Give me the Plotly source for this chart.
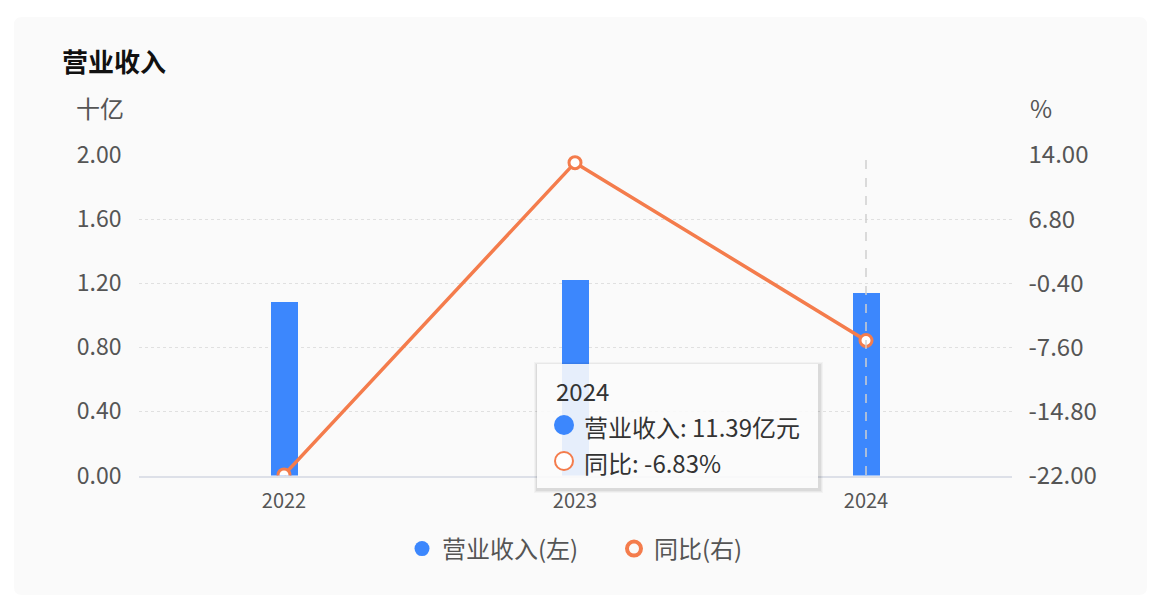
import plotly.graph_objects as go

# data (revenue in 亿元, growth in %)
years = ["2022", "2023", "2024"]
revenue_yi = [10.81, 12.23, 11.39]
yoy_pct = [-21.93, 13.14, -6.83]

left_ticks = [0.0, 0.4, 0.8, 1.2, 1.6, 2.0]
right_ticks = [-22.0, -14.8, -7.6, -0.4, 6.8, 14.0]

revenue_bn = [v / 10 for v in revenue_yi]

# page body keeps its 8px margin, so the figure is sized to fit inside the window
OFF = 8
W, H = 1169 - OFF, 609 - OFF
BLUE = "#3c87fd"
ORANGE = "#f47c4c"
TICK = "#555555"
FONT = "Noto Sans CJK SC, Noto Sans, sans-serif"


def px(x):
    # window pixel -> paper fraction
    return (x - OFF) / W


def py(y):
    return 1 - (y - OFF) / H


fig = go.Figure()

fig.add_trace(go.Bar(
    x=years, y=revenue_bn, name="营业收入(左)",
    marker=dict(color=BLUE, line=dict(width=0)),
    width=0.096, showlegend=False, yaxis="y",
))

fig.add_trace(go.Scatter(
    x=years, y=yoy_pct, name="同比(右)", mode="lines+markers",
    line=dict(color=ORANGE, width=3.5),
    marker=dict(symbol="circle", size=12, color="white",
                line=dict(color=ORANGE, width=3)),
    showlegend=False, yaxis="y2",
))

# legend-only entries with circle symbols
fig.add_trace(go.Scatter(
    x=[None], y=[None], mode="markers", name="营业收入(左)",
    marker=dict(symbol="circle", size=15, color=BLUE),
))
fig.add_trace(go.Scatter(
    x=[None], y=[None], mode="markers", name="同比(右)",
    marker=dict(symbol="circle-open", size=14, color=ORANGE,
                line=dict(width=4)),
))

fig.update_layout(
    width=W, height=H,
    margin=dict(l=0, r=0, t=0, b=0),
    paper_bgcolor="white",
    plot_bgcolor="rgba(0,0,0,0)",
    font=dict(family=FONT, color=TICK),
    bargap=0,
    xaxis=dict(
        domain=[px(138.5), px(1011.5)],
        type="category",
        range=[-0.5, len(years) - 0.5],
        showgrid=False, zeroline=False, automargin=False,
        showline=True, linecolor="#dde0e8", linewidth=1.5,
        ticks="", tickfont=dict(size=20, color=TICK),
        ticklabelstandoff=7,
    ),
    yaxis=dict(
        domain=[py(475.5), py(155)],
        range=[0, 2.0], automargin=False,
        tickvals=left_ticks,
        ticktext=[f"{v:.2f}" for v in left_ticks],
        tickfont=dict(size=23, color=TICK),
        showgrid=True, gridcolor="#e0e0e0", griddash="dot", gridwidth=1,
        zeroline=False, showline=False, ticks="",
        ticklabelstandoff=16,
    ),
    yaxis2=dict(
        overlaying="y", side="right",
        range=[-22, 14], automargin=False,
        tickvals=right_ticks,
        ticktext=[f"{v:.2f}" for v in right_ticks],
        tickfont=dict(size=24, color=TICK),
        showgrid=False, zeroline=False, showline=False, ticks="",
        ticklabelstandoff=16,
    ),
    legend=dict(
        orientation="h", x=px(402), xanchor="left",
        y=py(549), yanchor="middle",
        font=dict(size=24, color=TICK),
        itemwidth=30, entrywidth=167,
        bgcolor="rgba(0,0,0,0)",
    ),
)

# card background with rounded corners
x0, y0, x1, y1, r = px(14), py(17), px(1147), py(595), 8
rx, ry = r / W, r / H
card_path = (
    f"M {x0 + rx},{y0} L {x1 - rx},{y0} Q {x1},{y0} {x1},{y0 - ry} "
    f"L {x1},{y1 + ry} Q {x1},{y1} {x1 - rx},{y1} "
    f"L {x0 + rx},{y1} Q {x0},{y1} {x0},{y1 + ry} "
    f"L {x0},{y0 - ry} Q {x0},{y0} {x0 + rx},{y0} Z"
)
fig.add_shape(type="path", path=card_path, xref="paper", yref="paper",
              fillcolor="#fafafa", line=dict(width=0), layer="below")

# hover spike line at the last year (category index)
last = len(years) - 1
fig.add_shape(type="line", xref="x", yref="paper",
              x0=last, x1=last, y0=py(475), y1=py(154),
              line=dict(color="#cfcfcf", width=1.5, dash="dash"),
              layer="above")

# tooltip box with soft shadow
for i, a in enumerate([0.03, 0.04, 0.06]):
    g = 4 - i
    fig.add_shape(type="rect", xref="paper", yref="paper",
                  x0=px(537 - g + 1), x1=px(818 + g + 1), y0=py(489 + g), y1=py(364 - g + 2),
                  fillcolor=f"rgba(0,0,0,{a})", line=dict(width=0), layer="above")
fig.add_shape(type="rect", xref="paper", yref="paper",
              x0=px(537), x1=px(818), y0=py(488), y1=py(364),
              fillcolor="rgba(255,255,255,0.88)", line=dict(width=0), layer="above")
fig.add_shape(type="circle", xref="paper", yref="paper",
              xsizemode="pixel", ysizemode="pixel",
              xanchor=px(564), yanchor=py(425),
              x0=-10, x1=10, y0=-10, y1=10,
              fillcolor=BLUE, line=dict(width=0), layer="above")
fig.add_shape(type="circle", xref="paper", yref="paper",
              xsizemode="pixel", ysizemode="pixel",
              xanchor=px(564), yanchor=py(461),
              x0=-9, x1=9, y0=-9, y1=9,
              fillcolor="white", line=dict(color=ORANGE, width=2), layer="above")

tip_rows = [
    (years[last], 390, 554),
    (f"营业收入: {revenue_yi[last]:.2f}亿元", 426, 582),
    (f"同比: {yoy_pct[last]:.2f}%", 462, 582),
]
for text, ty, tx in tip_rows:
    fig.add_annotation(text=text, xref="paper", yref="paper",
                       x=px(tx), y=py(ty), xanchor="left", yanchor="middle",
                       showarrow=False, font=dict(size=24, color="#333333"))

# title and axis units
fig.add_annotation(text="<b>营业收入</b>", xref="paper", yref="paper",
                   x=px(60), y=py(60), xanchor="left", yanchor="middle",
                   showarrow=False, font=dict(size=26, color="#111111"))
fig.add_annotation(text="十亿", xref="paper", yref="paper",
                   x=px(74), y=py(108), xanchor="left", yanchor="middle",
                   showarrow=False, font=dict(size=24, color=TICK))
fig.add_annotation(text="%", xref="paper", yref="paper",
                   x=px(1028), y=py(108), xanchor="left", yanchor="middle",
                   showarrow=False, font=dict(size=24, color=TICK))

fig.write_html("out.html")
